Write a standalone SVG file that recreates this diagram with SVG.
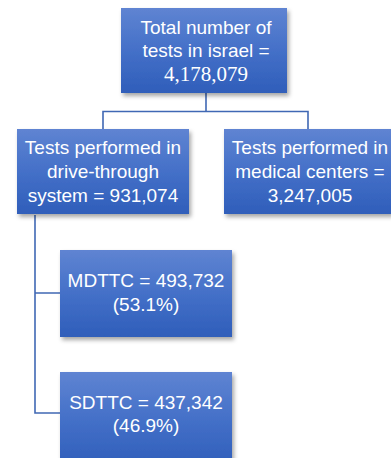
<svg xmlns="http://www.w3.org/2000/svg" width="391" height="458" viewBox="0 0 391 458">
<defs>
<linearGradient id="g" x1="0" y1="0" x2="0" y2="1">
<stop offset="0" stop-color="#5F84D2"/>
<stop offset="0.5" stop-color="#4470C8"/>
<stop offset="1" stop-color="#2F5EBA"/>
</linearGradient>
<filter id="sh" x="-10%" y="-10%" width="125%" height="130%">
<feDropShadow dx="2" dy="3" stdDeviation="2" flood-color="#000" flood-opacity="0.35"/>
</filter>
<style>
.box{fill:url(#g);filter:url(#sh)}
.t{font-family:"Liberation Sans",Arial,sans-serif;font-size:19px;fill:#fff;text-anchor:middle}
.n{font-family:"Liberation Serif","Times New Roman",serif;font-size:21px;fill:#fff;text-anchor:middle}
.c{fill:none;stroke:#4068B4;stroke-width:1.6}
</style>
</defs>
<rect width="391" height="458" fill="#fff"/>
<g id="connectors">
<path class="c" d="M206,93 V111.5 M103,129 V111.5 H308 V129"/>
<path class="c" d="M35,215 V413 H60 M35,293 H60"/>
</g>
<g id="total">
<rect class="box" x="121" y="8" width="166" height="85"/>
<text class="t" x="206" y="34">Total number of</text>
<text class="t" x="206" y="57">tests in israel =</text>
<text class="n" x="206" y="81">4,178,079</text>
</g>
<g id="drive">
<rect class="box" x="17" y="129" width="172" height="85"/>
<text class="t" x="103" y="154">Tests performed in</text>
<text class="t" x="103" y="178">drive-through</text>
<text class="t" x="103" y="202">system = 931,074</text>
</g>
<g id="medical">
<rect class="box" x="224" y="129" width="168" height="85"/>
<text class="t" x="310" y="154">Tests performed in</text>
<text class="t" x="310" y="178">medical centers =</text>
<text class="t" x="310" y="202">3,247,005</text>
</g>
<g id="mdttc">
<rect class="box" x="60" y="250" width="172" height="87"/>
<text class="t" x="146" y="287">MDTTC = 493,732</text>
<text class="t" x="146" y="311">(53.1%)</text>
</g>
<g id="sdttc">
<rect class="box" x="60" y="372" width="172" height="95"/>
<text class="t" x="146" y="409">SDTTC = 437,342</text>
<text class="t" x="146" y="432">(46.9%)</text>
</g>
</svg>
